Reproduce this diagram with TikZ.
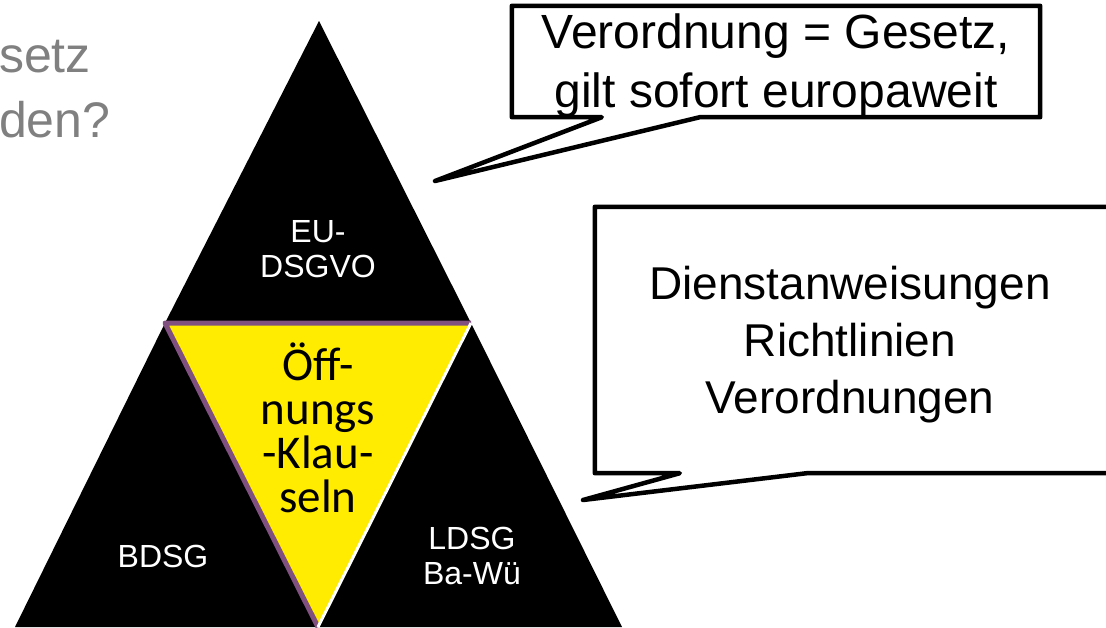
\documentclass[tikz,border=0pt]{standalone}
\usepackage{fontspec}
\setmainfont{Liberation Sans}
\newfontfamily\klausefont{Carlito}
\usetikzlibrary{positioning}
\definecolor{klauselgelb}{RGB}{255,236,0}
\definecolor{klauselrand}{RGB}{128,80,128}
\definecolor{fragegrau}{RGB}{128,128,128}

\begin{document}
\begin{tikzpicture}[x=1pt,y=-1pt]
    \useasboundingbox (0,0) rectangle (1106,627);
    \begin{scope}[line join=round, text centered,
    		label/.style={text=white,align=center,inner sep=0pt,font=\fontsize{32}{35}\selectfont},
    		klausel/.style={align=center,inner sep=0pt,font=\klausefont\fontsize{47}{44}\selectfont},
    		bubble/.style={draw=black,fill=white,line width=4.5pt},
    		bubblebox/.style={inner sep=0pt},
    		bubbletext/.style={align=center,inner sep=0pt},
    		frage/.style={anchor=base west,inner sep=0pt,text=fragegrau,font=\fontsize{50}{62}\selectfont}]

    % Frage (links abgeschnitten)
    \node[frage] (frage1) at (-1,72) {setz};
    \node[frage] (frage2) at (-1,137) {den?};

    % Pyramide
    \coordinate (apex) at (319,21);
    \coordinate (ml) at (165,323);
    \coordinate (mr) at (471,323);
    \coordinate (bl) at (15,627);
    \coordinate (bm) at (318,627);
    \coordinate (br) at (622,627);

    \fill[black] (apex) -- (mr) -- (ml) -- cycle;
    \fill[black] (ml) -- (bm) -- (bl) -- cycle;
    \fill[black] (mr) -- (br) -- (bm) -- cycle;
    \fill[klauselgelb] (ml) -- (mr) -- (bm) -- cycle;
    \draw[klauselrand, line width=5pt] (bm) -- (ml) -- (mr);
    \draw[white, line width=3pt] (mr) -- (bm);

    \node[label] (eu) at (318,249) {EU-\\DSGVO};
    \node[label] (bdsg) at (163,556) {BDSG};
    \node[label] (ldsg) at (472,556) {LDSG\\Ba-Wü};
    \node[klausel] (oeff) at (318,428) {Öff-\\nungs\\-Klau-\\seln};

    % Sprechblasen
    \node[bubblebox, minimum width=528pt, minimum height=111pt] (vobox) at (776,61.5) {};
    \coordinate (votip) at (435,181);
    \draw[bubble] (vobox.south west) -- (vobox.north west) -- (vobox.north east) -- (vobox.south east)
        -- ([xshift=188pt]vobox.south west) -- (votip) -- ([xshift=90pt]vobox.south west) -- cycle;
    \node[bubbletext, font=\fontsize{48}{59}\selectfont] (votext) at (776,66) {Verordnung = Gesetz,\\gilt sofort europaweit};

    \node[bubblebox, minimum width=535pt, minimum height=266pt] (dabox) at (862.5,340) {};
    \coordinate (datip) at (583,500);
    \draw[bubble] (dabox.south west) -- (dabox.north west) -- (dabox.north east) -- (dabox.south east)
        -- ([xshift=212pt]dabox.south west) -- (datip) -- ([xshift=85pt]dabox.south west) -- cycle;
    \node[bubbletext, font=\fontsize{46}{57}\selectfont] (datext) at (850,345) {Dienstanweisungen\\Richtlinien\\Verordnungen};

    \end{scope}
\end{tikzpicture}
\end{document}
